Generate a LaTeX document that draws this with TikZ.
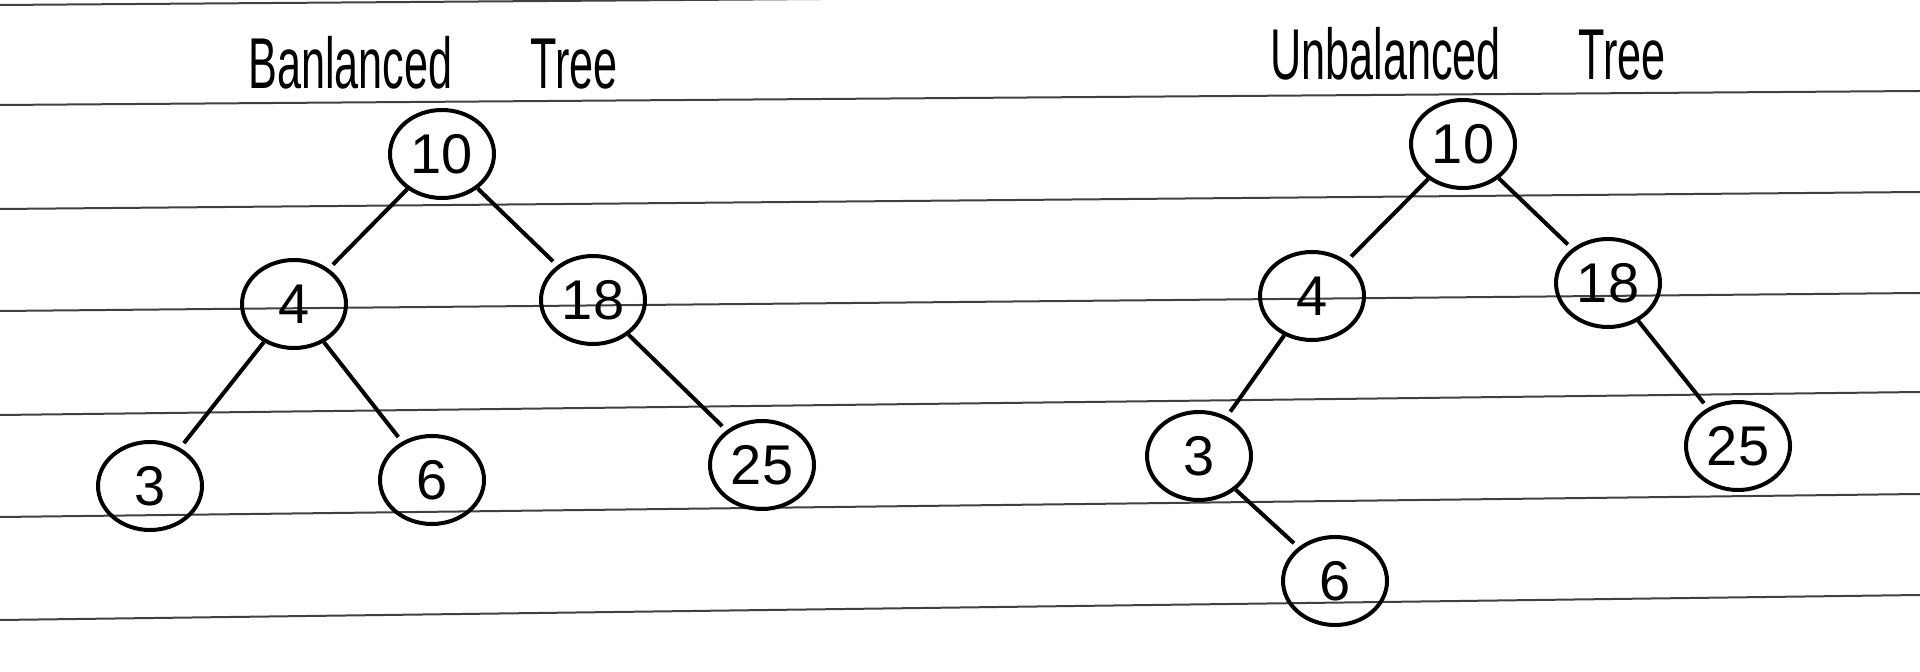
\documentclass[tikz,border=0pt]{standalone}
\usepackage{fontspec}
\setmainfont{Liberation Sans}
\usepackage{graphicx}
\usepackage{tikz}
\usetikzlibrary{shapes.geometric}
\newcommand{\titulo}[2]{\scalebox{0.6}[1]{#1\hspace{1.8em}#2}}

\begin{document}
\begin{tikzpicture}[x=0.5pt, y=-0.5pt, line width=2pt, shorten >=3pt]
    \tikzstyle{vertex}=[ellipse, draw=black, minimum width=52pt, minimum height=44pt, inner sep=0pt, font=\fontsize{28}{30}\selectfont]
    \tikzstyle{rotulo}=[anchor=base, inner sep=0pt, font=\fontsize{36}{40}\selectfont]
    \tikzstyle{renglon}=[line width=1pt, draw=black!75, shorten >=0pt]

    \useasboundingbox (0,0) rectangle (1920,672);
    \clip (0,0) rectangle (1920,672);

    % Lineas del papel
    \foreach \izq/\der in {5/-9, 105/91, 209/192, 311/293, 415/392, 517/494, 620/595}
        \draw[renglon] (0,\izq) -- (1920,\der);

    % Arbol balanceado
    \node[rotulo] (btitulo) at (433,89)  {\titulo{Banlanced}{Tree}};
    \node[vertex] (b10)     at (442,154) {10};
    \node[vertex] (b4)      at (294,304) {4};
    \node[vertex] (b18)     at (593,300) {18};
    \node[vertex] (b3)      at (150,486) {3};
    \node[vertex] (b6)      at (432,480) {6};
    \node[vertex] (b25)     at (762,465) {25};

    % Arbol desbalanceado
    \node[rotulo] (utitulo) at (1468,80)  {\titulo{Unbalanced}{Tree}};
    \node[vertex] (u10)     at (1463,144) {10};
    \node[vertex] (u4)      at (1312,296) {4};
    \node[vertex] (u18)     at (1608,283) {18};
    \node[vertex] (u3)      at (1199,456) {3};
    \node[vertex] (u6)      at (1335,581) {6};
    \node[vertex] (u25)     at (1738,446) {25};

    \path
        (b10)  edge  (b4)
               edge  (b18)
        (b4)   edge  (b3)
               edge  (b6)
        (b18)  edge  (b25)

        (u10)  edge  (u4)
               edge  (u18)
        (u4)   edge  (u3)
        (u3)   edge  (u6)
        (u18)  edge  (u25)
    ;
\end{tikzpicture}
\end{document}
